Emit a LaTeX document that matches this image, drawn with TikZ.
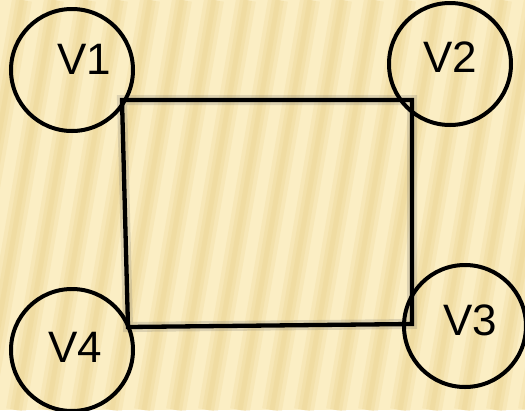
\documentclass[tikz,border=0pt]{standalone}
\usepackage{fontspec}
\setmainfont{Liberation Sans}
\begin{document}
\begin{tikzpicture}[x=1pt,y=-1pt,
  vcirc/.style={circle,draw=black,line width=4pt,minimum size=122pt,inner sep=0pt},
  vlabel/.style={font=\fontsize{44}{44}\selectfont,inner sep=0pt},
  edge/.style={line width=4.3pt,black},
  shadowline/.style={line width=10pt,black!60,opacity=0.2}]
\definecolor{bglight}{RGB}{251,238,196}
\definecolor{bgdark}{RGB}{236,212,146}
\useasboundingbox (0,0) rectangle (525,410);
\fill[bglight] (0,0) rectangle (525,410);
\begin{scope}
\clip (0,0) rectangle (525,410);
\foreach \x in {-10,22,...,640}{
  \draw[bgdark,line width=20pt,opacity=0.25] (\x,0) -- (\x-70,410);
  \draw[bgdark,line width=12pt,opacity=0.3] (\x,0) -- (\x-70,410);
  \draw[bgdark,line width=5pt,opacity=0.35] (\x,0) -- (\x-70,410);
}
\end{scope}
% rectangle corners
\coordinate (a) at (122,100);
\coordinate (b) at (412,100);
\coordinate (c) at (412,324);
\coordinate (d) at (128,327);
% shadow
\begin{scope}[shift={(4,6)}]
\draw[shadowline] (a) -- (b) -- (c) -- (d) -- cycle;
\end{scope}
\draw[edge] (a) -- (b) -- (c) -- (d) -- cycle;
% vertices
\node[vcirc] (v1) at (72,70) {};
\node[vcirc] (v2) at (450,64) {};
\node[vcirc] (v3) at (465,326) {};
\node[vcirc] (v4) at (72,350) {};
\node[vlabel] (l1) at (84,59) {V1};
\node[vlabel] (l2) at (450,57) {V2};
\node[vlabel] (l3) at (470,320) {V3};
\node[vlabel] (l4) at (75,347) {V4};
\end{tikzpicture}
\end{document}
